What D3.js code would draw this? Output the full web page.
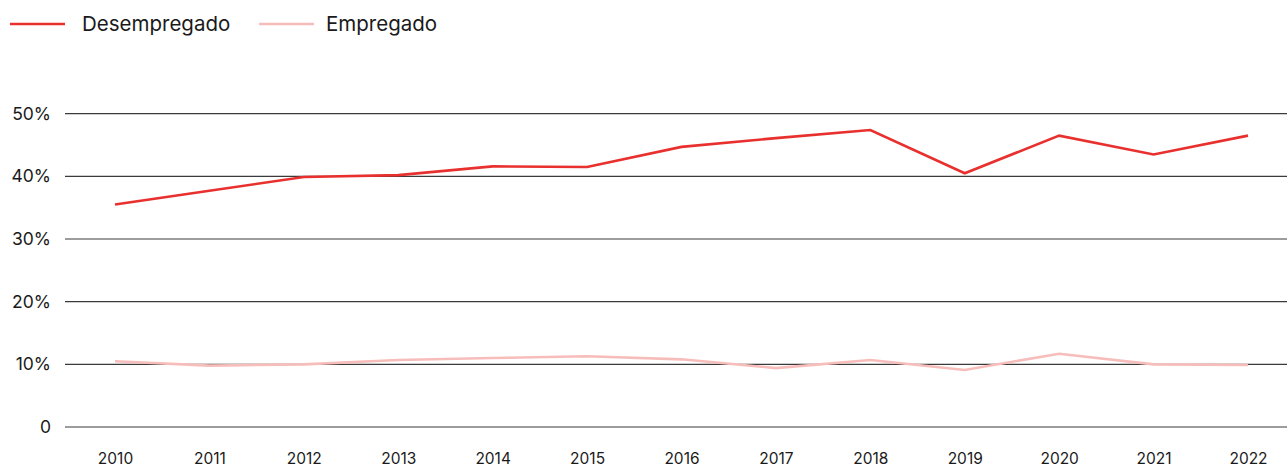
<!DOCTYPE html>
<html><head><meta charset="utf-8">
<script src="https://cdn.jsdelivr.net/npm/d3@7"></script>
<style>body{margin:0;background:#fff;} text{font-family:Inter,"Liberation Sans",sans-serif;fill:#1a1a1a;}</style>
</head><body>
<svg id="c" width="1287" height="468"></svg>
<script>
const years = ["2010","2011","2012","2013","2014","2015","2016","2017","2018","2019","2020","2021","2022"];
const desempregado = [35.5,37.7,39.9,40.2,41.6,41.5,44.7,46.1,47.4,40.5,46.5,43.5,46.5];
const empregado = [10.5,9.8,10.0,10.7,11.0,11.3,10.8,9.4,10.7,9.1,11.7,10.0,9.9];
const yTicks = [0,10,20,30,40,50];
const seriesNames = ["Desempregado","Empregado"];
const colors = ["#e8312f","#f7bdbb"];

const svg = d3.select("#c");
const x = d3.scalePoint().domain(years).range([115,1248]);
const y = d3.scaleLinear().domain([0,50]).range([427,113.7]);

const yAxis = d3.axisLeft(y).tickValues(yTicks).tickSize(0).tickPadding(14)
  .tickFormat(d => d === 0 ? "0" : d + "%");
const gy = svg.append("g").attr("transform","translate(65,0)").call(yAxis);
gy.select(".domain").remove();
gy.selectAll("text").attr("font-size",17.5).attr("fill","#1a1a1a");

svg.append("g").selectAll("line").data(yTicks).join("line")
  .attr("x1",65).attr("x2",1287)
  .attr("y1",d=>y(d)).attr("y2",d=>y(d))
  .attr("stroke","#3a3a3a").attr("stroke-width",1.2);

const xAxis = d3.axisBottom(x).tickSize(0).tickPadding(0);
const gx = svg.append("g").attr("transform","translate(0,453)").call(xAxis);
gx.select(".domain").remove();
gx.selectAll("text").attr("font-size",15.5).attr("dy","0.71em").attr("fill","#1a1a1a");

const line = d3.line().x((d,i)=>x(years[i])).y(d=>y(d));
[empregado, desempregado].forEach((s,k)=>{
  const ci = k===0 ? 1 : 0;
  svg.append("path").datum(s).attr("d",line).attr("fill","none")
    .attr("stroke",colors[ci]).attr("stroke-width",2.6).attr("stroke-linejoin","miter");
});

const legX = [10,259];
const legT = [82,326];
seriesNames.forEach((n,i)=>{
  svg.append("line").attr("x1",legX[i]).attr("x2",legX[i]+55).attr("y1",24).attr("y2",24)
    .attr("stroke",colors[i]).attr("stroke-width",2.6);
  svg.append("text").attr("x",legT[i]).attr("y",24).attr("dy","0.35em")
    .attr("font-size",20.5).text(n);
});
</script>
</body></html>
